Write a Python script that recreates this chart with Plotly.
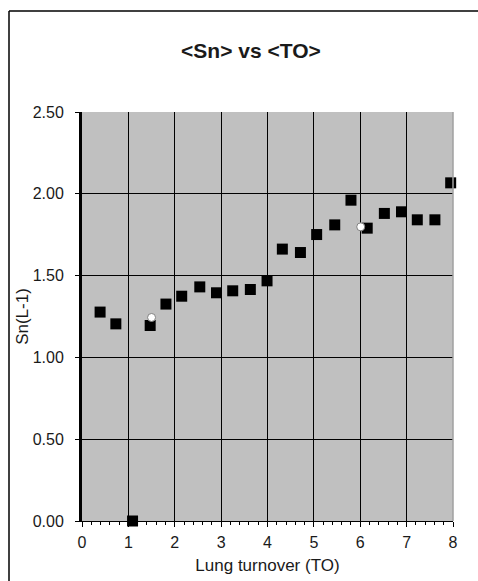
import plotly.graph_objects as go

# Data
to_sq = [0.39, 0.73, 1.09, 1.47, 1.81, 2.15, 2.54, 2.90, 3.25, 3.63, 3.99, 4.32, 4.71,
         5.06, 5.45, 5.80, 6.15, 6.52, 6.89, 7.23, 7.61, 7.95]
sn_sq = [1.277, 1.205, 0.0, 1.195, 1.326, 1.374, 1.431, 1.395, 1.407, 1.415, 1.468, 1.662,
         1.641, 1.751, 1.810, 1.961, 1.790, 1.880, 1.890, 1.841, 1.841, 2.067]
to_circ = [1.50, 6.01]
sn_circ = [1.244, 1.798]

x_ticks = [0, 1, 2, 3, 4, 5, 6, 7, 8]
y_ticks = [0, 0.5, 1.0, 1.5, 2.0, 2.5]
y_labels = ["0.00", "0.50", "1.00", "1.50", "2.00", "2.50"]

FONT = "Liberation Sans, Arial, sans-serif"
TXT = "#1a1a1a"

fig = go.Figure()
fig.add_trace(go.Scatter(
    x=to_sq, y=sn_sq, mode="markers",
    marker=dict(symbol="square", size=11, color="black", line=dict(width=0)),
    cliponaxis=False, showlegend=False))
fig.add_trace(go.Scatter(
    x=to_circ, y=sn_circ, mode="markers",
    marker=dict(symbol="circle", size=8, color="white", line=dict(width=1, color="#808080")),
    cliponaxis=False, showlegend=False))

fig.update_layout(
    width=478, height=581,
    margin=dict(l=82, r=25, t=112, b=60, pad=0),
    paper_bgcolor="white", plot_bgcolor="#c0c0c0",
    font=dict(family=FONT, size=16, color=TXT),
    title=dict(text="<b>&lt;Sn&gt; vs &lt;TO&gt;</b>", x=0.525, xanchor="center",
               y=1 - 51 / 581, yanchor="middle", font=dict(size=21, color=TXT)),
    xaxis=dict(range=[0, 8], tickvals=x_ticks, ticktext=[str(v) for v in x_ticks],
               showgrid=True, gridcolor="black", gridwidth=1,
               showline=True, linecolor="black", linewidth=1,
               ticks="outside", ticklen=5, tickcolor="black", tickwidth=1,
               minor=dict(dtick=0.2, ticks="outside", ticklen=3, tickcolor="black", showgrid=False),
               zeroline=False, ticklabelstandoff=2, automargin=False,
               title=dict(text="Lung turnover (TO)", standoff=8, font=dict(size=17)),
               tickfont=dict(size=16)),
    yaxis=dict(range=[0, 2.5], tickvals=y_ticks, ticktext=y_labels,
               showgrid=True, gridcolor="black", gridwidth=1,
               showline=True, linecolor="black", linewidth=3,
               ticks="outside", ticklen=4, tickcolor="black",
               zeroline=False, ticklabelstandoff=8, automargin=False,
               title=dict(text="Sn(L-1)", standoff=0, font=dict(size=17)),
               tickfont=dict(size=16)),
)

# outer chart border (left and top edges visible in the crop)
bx = (9 - 82) / 371
by = (521 - 11) / 409
bottom = -60 / 409
right = (478 - 82) / 371
fig.add_shape(type="line", xref="paper", yref="paper", x0=bx, x1=bx, y0=bottom, y1=by,
              line=dict(color="black", width=1.5), layer="below")
fig.add_shape(type="line", xref="paper", yref="paper", x0=bx, x1=right, y0=by, y1=by,
              line=dict(color="black", width=1.5), layer="below")
# right edge of plot area in grey
fig.add_shape(type="line", xref="paper", yref="paper", x0=1, x1=1, y0=0, y1=1,
              line=dict(color="#a0a0a0", width=1.5))

fig.write_html("out.html")
